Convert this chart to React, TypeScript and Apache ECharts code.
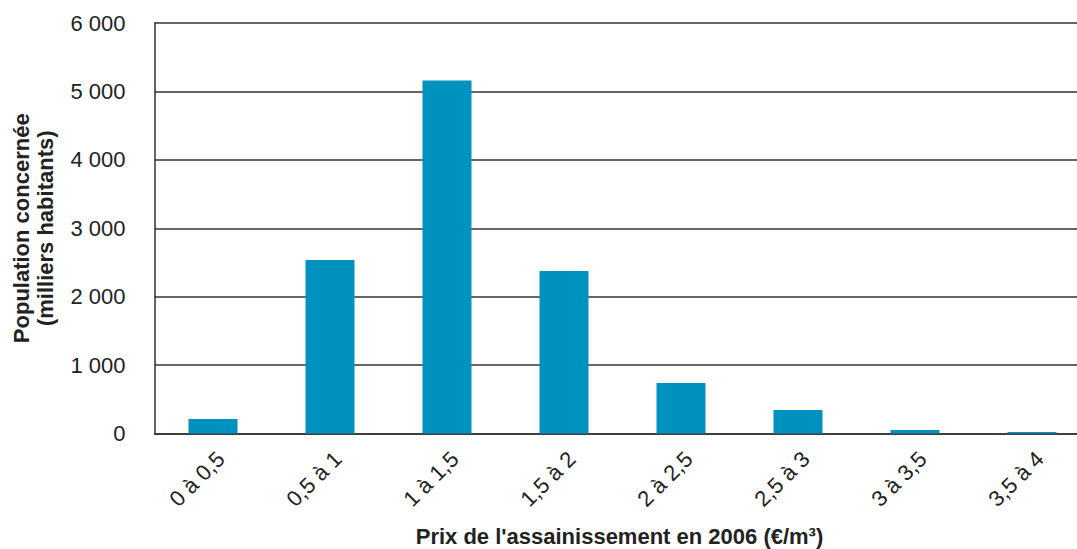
import React, { useEffect, useRef } from "react";
import * as echarts from "echarts";

const categories = ["0 à 0,5", "0,5 à 1", "1 à 1,5", "1,5 à 2", "2 à 2,5", "2,5 à 3", "3 à 3,5", "3,5 à 4"];
const population = [212, 2536, 5158, 2376, 738, 344, 51, 22];
const yTicks = [0, 1000, 2000, 3000, 4000, 5000, 6000];
const xTitle = "Prix de l'assainissement en 2006 (€/m³)";
const yTitle = "Population concernée\n(milliers habitants)";

export default function App() {
  const ref = useRef<HTMLDivElement>(null);
  useEffect(() => {
    const chart = echarts.init(ref.current!, undefined, { renderer: "svg" });
    const font = "'Liberation Sans', Arial, sans-serif";
    chart.setOption({
      animation: false,
      textStyle: { fontFamily: font },
      grid: { left: 154.5, right: -13.5, top: 23, bottom: 115.5, containLabel: false, outerBoundsMode: "none" },
      xAxis: {
        type: "category",
        data: categories,
        axisLine: { lineStyle: { color: "#333", width: 1.5 } },
        axisTick: { show: false },
        axisLabel: { rotate: 45, fontSize: 22, color: "#222", fontFamily: font, margin: 14, verticalAlign: "top" },
        name: xTitle,
        nameLocation: "middle",
        nameGap: 92,
        nameTextStyle: { fontSize: 22, fontWeight: "bold", color: "#222", fontFamily: font, padding: [0, 6, 0, 0] },
      },
      yAxis: {
        type: "value",
        min: yTicks[0],
        max: yTicks[yTicks.length - 1],
        interval: 1000,
        axisLine: { show: true, lineStyle: { color: "#333", width: 1.5 } },
        axisTick: { show: false },
        splitLine: { lineStyle: { color: "#333", width: 1.5 } },
        axisLabel: {
          fontSize: 22,
          color: "#222",
          margin: 29,
          fontFamily: font,
          formatter: (v: number) => String(v).replace(/\B(?=(\d{3})+(?!\d))/g, " "),
        },
        name: yTitle,
        nameLocation: "middle",
        nameGap: 97,
        nameTextStyle: { fontSize: 22, fontWeight: "bold", color: "#222", fontFamily: font, lineHeight: 24 },
      },
      series: [
        {
          type: "bar",
          data: population,
          barWidth: 49,
          itemStyle: { color: "#0092BE" },
        },
      ],
    });
    return () => chart.dispose();
  }, []);
  return <div ref={ref} style={{ position: "fixed", left: 0, top: 0, width: 1077, height: 549, background: "#fff" }} />;
}
